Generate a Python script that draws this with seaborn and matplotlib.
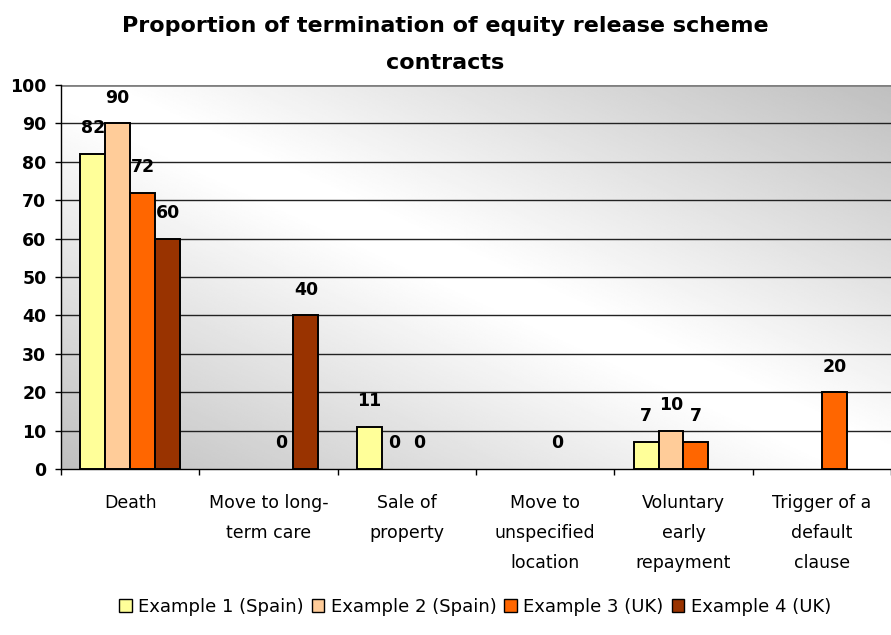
import numpy as np
import pandas as pd
import seaborn as sns
import matplotlib.pyplot as plt

categories = ["Death", "Move to long-\nterm care", "Sale of\nproperty",
              "Move to\nunspecified\nlocation", "Voluntary\nearly\nrepayment",
              "Trigger of a\ndefault\nclause"]
series = ["Example 1 (Spain)", "Example 2 (Spain)", "Example 3 (UK)", "Example 4 (UK)"]
nan = np.nan
ex1 = [82, nan, 11, nan, 7, nan]
ex2 = [90, nan, 0, nan, 10, nan]
ex3 = [72, 0, 0, 0, 7, 20]
ex4 = [60, 40, nan, nan, nan, nan]
colors = ["#FFFF99", "#FFCC99", "#FF6600", "#993300"]

rows = []
for s, vals in zip(series, [ex1, ex2, ex3, ex4]):
    for c, v in zip(categories, vals):
        rows.append({"category": c, "series": s, "value": v})
df = pd.DataFrame(rows).dropna()

sns.set_style("white")
plt.rcParams['font.family'] = ['DejaVu Sans']
for k in ["text.color", "axes.labelcolor", "xtick.color", "ytick.color"]:
    plt.rcParams[k] = "black"

fig = plt.figure(figsize=(8.91, 6.35), dpi=100)
ax = fig.add_axes([61/891, 1-469/635, 1-61/891, (469-85)/635])

# diagonal background gradient: grey corners, white band along the diagonal
xx, yy = np.meshgrid(np.linspace(0, 1, 300), np.linspace(1, 0, 300))
t = np.abs(xx + yy - 1)
shade = 1 - 0.25 * np.clip((t - 0.05) / 0.95, 0, 1)
ax.imshow(shade, cmap="gray", vmin=0, vmax=1, extent=[0, 1, 0, 1],
          transform=ax.transAxes, aspect="auto", zorder=0, interpolation="bilinear")

sns.barplot(data=df, x="category", y="value", hue="series", order=categories,
            hue_order=series, palette=colors, width=0.72, gap=0,
            edgecolor="black", linewidth=1.4, saturation=1, ax=ax, zorder=3)

for p in ax.patches:
    if p.get_height() == 0:
        p.set_linewidth(0)

for cont in ax.containers:
    ax.bar_label(cont, fmt="%g", padding=12, fontsize=12.5, fontweight="bold")

ax.set_xlim(-0.5, 5.5)
ax.set_ylim(0, 100)
ax.set_yticks(range(0, 101, 10))
for y in range(10, 100, 10):
    ax.axhline(y, color="#222222", lw=1, zorder=1)
ax.axhline(100, color="#808080", lw=2, zorder=1)
ax.set_xticks(np.arange(6))
ax.set_xticklabels(categories, fontsize=12.5, linespacing=1.85, va="top")
ax.set_xticks(np.arange(-0.5, 6, 1), minor=True)
ax.tick_params(axis="x", which="major", length=0, pad=18)
ax.tick_params(axis="x", which="minor", length=4.5, width=1, color="black", direction="out")
ax.tick_params(axis="y", length=4.5, width=1, color="black", direction="out", pad=6)
ax.yaxis.set_ticks_position("left")
ax.xaxis.set_ticks_position("bottom")
for lab in ax.get_yticklabels():
    lab.set_fontweight("bold")
    lab.set_fontsize(12.5)
for side in ["top", "right"]:
    ax.spines[side].set_visible(False)
for side in ["left", "bottom"]:
    ax.spines[side].set_color("black")
    ax.spines[side].set_linewidth(1)
ax.set_xlabel("")
ax.set_ylabel("")

fig.text(0.5, 1-32/635, "Proportion of termination of equity release scheme",
         ha="center", va="baseline", fontsize=16, fontweight="bold")
fig.text(0.5, 1-69/635, "contracts", ha="center", va="baseline",
         fontsize=16, fontweight="bold")

handles, labels = ax.get_legend_handles_labels()
ax.legend_.remove()
for h in handles:
    h.set_edgecolor("black")
    h.set_linewidth(1)
fig.legend(handles, labels, loc="center", bbox_to_anchor=(0.533, 1-607/635), ncol=4,
           frameon=False, fontsize=13, handlelength=0.7, handleheight=0.7,
           handletextpad=0.35, columnspacing=0.45)

fig.savefig("out.png", dpi=100)
